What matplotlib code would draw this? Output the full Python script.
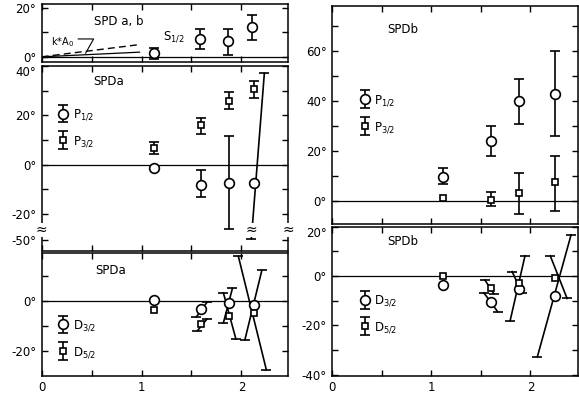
import numpy as np
import matplotlib
matplotlib.use('Agg')
import matplotlib.pyplot as plt
from matplotlib.ticker import FixedLocator, FuncFormatter, NullFormatter
from matplotlib.legend_handler import HandlerErrorbar
from matplotlib.container import ErrorbarContainer

plt.rcParams['font.family'] = ['DejaVu Sans']
plt.rcParams['mathtext.default'] = 'regular'

# ---------------- data ----------------
energy_s = [1.12, 1.59, 1.87, 2.11]
energy_a = [1.12, 1.60, 1.88, 2.13]
energy_b = [1.12, 1.60, 1.88, 2.25]

# S1/2 (SPD a,b)
s12 = [1.6, 7.3, 6.5, 12.3]
s12_lo = [2.7, 4.3, 5.8, 5.4]
s12_hi = [2.1, 4.0, 4.8, 4.9]
ka0_x = [0.0, 0.98]
ka0_dashed = [0.0, 5.0]
ka0_solid = [0.0, 1.9]

# P waves SPDa
p12_a = [-1.3, -8.3, -7.6, -7.6]
p12_a_lo = [np.nan, 5.0, 18.6, np.nan]
p12_a_hi = [np.nan, 6.1, 19.0, np.nan]
p12_a_bars = [(2.23, 37.0, 2.10, -48.0)]
p32_a = [6.8, 15.9, 25.8, 30.5]
p32_a_lo = [2.4, 3.4, 3.4, 3.5]
p32_a_hi = [2.3, 3.0, 3.5, 3.5]

# D waves SPDa
d32_a = [0.5, -3.3, -0.9, -1.6]
d32_a_bars = [(1.55, -6.3, 1.655, -0.5), (1.91, 5.1, 1.82, -8.7), (2.205, 12.4, 2.035, -15.6)]
d52_a = [-3.6, -9.2, -6.0, -4.9]
d52_a_bars = [(1.56, -11.9, 1.655, -7.2), (1.82, 3.3, 1.945, -15.2), (1.97, 18.0, 2.25, -27.6)]

# P waves SPDb
p12_b = [9.8, 24.2, 39.9, 42.8]
p12_b_lo = [3.1, 6.0, 9.0, 16.7]
p12_b_hi = [3.3, 6.0, 9.1, 17.4]
p32_b = [1.5, 0.7, 3.3, 7.5]
p32_b_lo = [np.nan, 2.6, 8.2, 11.4]
p32_b_hi = [np.nan, 3.0, 7.8, 10.7]

# D waves SPDb
d32_b = [-3.8, -10.6, -5.4, -7.9]
d32_b_bars = [(1.53, -6.8, 1.67, -14.5), (1.945, 8.2, 1.795, -18.1), (2.41, 16.7, 2.07, -32.7)]
d52_b = [0.0, -4.8, -2.7, -0.7]
d52_b_bars = [(1.54, -1.6, 1.63, -7.1), (1.815, 1.8, 1.915, -6.8), (2.20, 8.2, 2.37, -9.1)]

# ---------------- styling ----------------
FS = 8.5
circ = dict(marker='o', ms=7, mfc='white', mec='k', mew=1.2, ls='none', zorder=4)
sq = dict(marker='s', ms=4.3, mfc='white', mec='k', mew=1.2, ls='none', zorder=4)

fig = plt.figure(figsize=(5.79, 3.97), dpi=100)
W, H = 579.0, 397.0


def rect(x0, x1, y0, y1):
    return [x0 / W, 1 - y1 / H, (x1 - x0) / W, (y1 - y0) / H]


ax_s = fig.add_axes(rect(41.7, 288.3, 4, 61.7))
ax_pa = fig.add_axes(rect(41.7, 288.3, 66, 250.7))
ax_da = fig.add_axes(rect(41.7, 288.3, 252.7, 375.7))
ax_pb = fig.add_axes(rect(332.3, 578, 6, 224.3))
ax_db = fig.add_axes(rect(332.3, 578, 226.7, 375.7))

BREAK = -26.0
COMP = 0.1875


def fwd(y):
    y = np.asarray(y, dtype=float)
    return np.where(y >= BREAK, y, BREAK + (y - BREAK) * COMP)


def inv(y):
    y = np.asarray(y, dtype=float)
    return np.where(y >= BREAK, y, BREAK + (y - BREAK) / COMP)


ax_pa.set_yscale('function', functions=(fwd, inv))

deg_fmt = FuncFormatter(lambda v, p: f"{int(round(v))}°")


def style(ax, xmax, ylim, major, minor, xlabels=False):
    ax.set_xlim(0, xmax)
    ax.set_ylim(*ylim)
    ax.xaxis.set_major_locator(FixedLocator([0, 1, 2]))
    ax.xaxis.set_minor_locator(FixedLocator([0.5, 1.5]))
    if xlabels:
        ax.xaxis.set_major_formatter(FuncFormatter(lambda v, p: f"{int(v)}"))
    else:
        ax.xaxis.set_major_formatter(NullFormatter())
    ax.yaxis.set_major_locator(FixedLocator(major))
    ax.yaxis.set_minor_locator(FixedLocator(minor))
    ax.yaxis.set_major_formatter(deg_fmt)
    ax.yaxis.set_minor_formatter(NullFormatter())
    ax.tick_params(which='both', direction='in', top=True, right=True,
                   length=4, width=1.0, labelsize=FS, pad=4)
    for s in ax.spines.values():
        s.set_linewidth(1.1)
    ax.axhline(0, color='k', lw=0.9, zorder=1)


style(ax_s, 2.47, (-2, 21.6), [0, 20], [10])
style(ax_pa, 2.47, (-74, 40), [40, 20, 0, -20, -50], [30, 10, -10])
style(ax_da, 2.47, (-30, 19.5), [20, 0, -20], [10, -10], xlabels=True)
style(ax_pb, 2.48, (-9.2, 78), [60, 40, 20, 0], [70, 50, 30, 10])
style(ax_db, 2.48, (-40.4, 20), [20, 0, -20, -40], [10, -10, -30], xlabels=True)


def vbars(ax, x, y, lo, hi, mk):
    idx = [i for i in range(len(y)) if not np.isnan(lo[i])]
    if idx:
        ax.errorbar([x[i] for i in idx], [y[i] for i in idx],
                    yerr=[[lo[i] for i in idx], [hi[i] for i in idx]],
                    fmt='none', ecolor='k', elinewidth=1.2, capsize=3.6,
                    capthick=1.2, zorder=3)
    ax.plot(x, y, **mk)


def sbars(ax, bars):
    for (x1, y1, x2, y2) in bars:
        ax.plot([x1, x2], [y1, y2], color='k', lw=1.2, marker='_', ms=7,
                mew=1.2, zorder=3)


def proxy(ax, mk):
    kw = dict(mk)
    kw.pop('ls')
    kw.pop('zorder')
    return ax.errorbar([np.nan], [np.nan], yerr=[1], fmt=kw.pop('marker'),
                       ecolor='k', elinewidth=1.2, capsize=3.6, capthick=1.2,
                       **kw)


def legend(ax, handles, labels, anchor):
    ax.legend(handles, labels, loc='upper left', bbox_to_anchor=anchor,
              frameon=False, fontsize=FS, handlelength=0.8, handletextpad=0.4,
              borderpad=0, borderaxespad=0, labelspacing=1.0, numpoints=1,
              handler_map={ErrorbarContainer: HandlerErrorbar(yerr_size=0.75)})


# ---- top left: S1/2 ----
ax_s.plot(ka0_x, ka0_dashed, color='k', lw=1.0, ls=(0, (5, 3)))
ax_s.plot(ka0_x, ka0_solid, color='k', lw=0.9)
ax_s.plot([0.366, 0.52, 0.44], [7.3, 7.3, 1.5], color='k', lw=0.8)
ax_s.text(0.21, 6.2, 'k*A$_0$', fontsize=7, ha='center', va='center')
ax_s.text(0.52, 14.3, 'SPD a, b', fontsize=FS, ha='left', va='center')
ax_s.text(1.21, 8.1, 'S$_{1/2}$', fontsize=FS, ha='left', va='center')
vbars(ax_s, energy_s, s12, s12_lo, s12_hi, circ)

# ---- middle left: P waves SPDa ----
vbars(ax_pa, energy_a, p12_a, p12_a_lo, p12_a_hi, circ)
sbars(ax_pa, p12_a_bars)
vbars(ax_pa, energy_a, p32_a, p32_a_lo, p32_a_hi, sq)
ax_pa.text(0.52, 33.9, 'SPDa', fontsize=FS, ha='left', va='center')
legend(ax_pa, [proxy(ax_pa, circ), proxy(ax_pa, sq)],
       ['P$_{1/2}$', 'P$_{3/2}$'], (0.068, 0.775))
btr = ax_pa.get_yaxis_transform()
for xb in (0.0, 1.0):
    ax_pa.text(xb, -29, '≈', transform=btr, fontsize=10, ha='center',
               va='center', clip_on=False,
               bbox=dict(fc='white', ec='none', pad=0.2), zorder=6)
ax_pa.text(p12_a_bars[0][2], -29, '≈', fontsize=10, ha='center', va='center',
           bbox=dict(fc='white', ec='none', pad=0.2), zorder=6)

# ---- bottom left: D waves SPDa ----
ax_da.plot(energy_a, d32_a, **circ)
sbars(ax_da, d32_a_bars)
ax_da.plot(energy_a, d52_a, **sq)
sbars(ax_da, d52_a_bars)
ax_da.text(0.54, 12.4, 'SPDa', fontsize=FS, ha='left', va='center')
legend(ax_da, [proxy(ax_da, circ), proxy(ax_da, sq)],
       ['D$_{3/2}$', 'D$_{5/2}$'], (0.068, 0.465))

# ---- top right: P waves SPDb ----
vbars(ax_pb, energy_b, p12_b, p12_b_lo, p12_b_hi, circ)
vbars(ax_pb, energy_b, p32_b, p32_b_lo, p32_b_hi, sq)
ax_pb.text(0.55, 68.7, 'SPDb', fontsize=FS, ha='left', va='center')
legend(ax_pb, [proxy(ax_pb, circ), proxy(ax_pb, sq)],
       ['P$_{1/2}$', 'P$_{3/2}$'], (0.114, 0.60))

# ---- bottom right: D waves SPDb ----
ax_db.plot(energy_b, d32_b, **circ)
sbars(ax_db, d32_b_bars)
ax_db.plot(energy_b, d52_b, **sq)
sbars(ax_db, d52_b_bars)
ax_db.text(0.55, 13.8, 'SPDb', fontsize=FS, ha='left', va='center')
legend(ax_db, [proxy(ax_db, circ), proxy(ax_db, sq)],
       ['D$_{3/2}$', 'D$_{5/2}$'], (0.114, 0.55))

# shift the top tick labels of the lower panels down so they don't collide
fig.canvas.draw()
for ax, top in ((ax_pa, 40), (ax_da, 20), (ax_db, 20)):
    for t in ax.yaxis.get_major_ticks():
        if abs(t.get_loc() - top) < 1e-6:
            t.label1.set_va('top')

fig.savefig('out.png', dpi=100)
